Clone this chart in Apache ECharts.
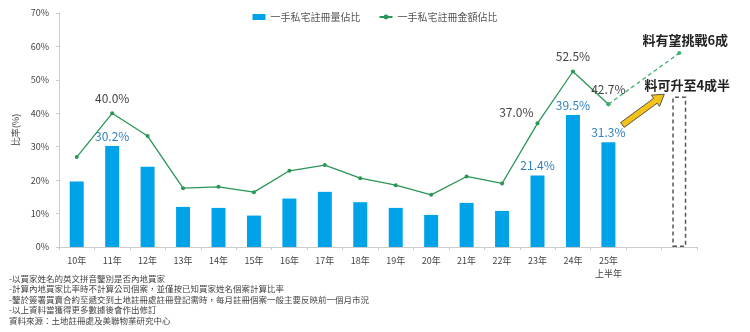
<!DOCTYPE html>
<html><head><meta charset="utf-8">
<script src="https://cdn.jsdelivr.net/npm/echarts@6/dist/echarts.min.js"></script>
<style>html,body{margin:0;padding:0;background:#fff}#c{width:750px;height:332px}</style>
</head><body><div id="c"></div>
<script>
const categories = ['10年','11年','12年','13年','14年','15年','16年','17年','18年','19年','20年','21年','22年','23年','24年','25年\n上半年','',''];
const volumeShare = [19.6,30.2,24.0,12.0,11.7,9.4,14.5,16.5,13.4,11.7,9.6,13.2,10.8,21.4,39.5,31.3,null,null];
const amountShare = [26.9,40.0,33.2,17.6,18.0,16.4,22.8,24.5,20.6,18.5,15.6,21.1,19.0,37.0,52.5,42.7,null,null];
const projAmount = [null,null,null,null,null,null,null,null,null,null,null,null,null,null,null,42.7,null,58.0];
const projVolume = [null,null,null,null,null,null,null,null,null,null,null,null,null,null,null,null,null,45.0];
const yTicks = [0,10,20,30,40,50,60,70];
const volLabelIdx = [1,13,14,15];
const amtLabelIdx = {1:'top',13:'left',14:'top',15:'top'};
const notes = [
 '-以買家姓名的英文拼音鑒別是否內地買家',
 '-計算內地買家比率時不計算公司個案，並僅按已知買家姓名個案計算比率',
 '-鑒於簽署買賣合約至遞交到土地註冊處註冊登記需時，每月註冊個案一般主要反映前一個月市況',
 '-以上資料當獲得更多數據後會作出修訂',
 '資料來源：土地註冊處及美聯物業研究中心'
];
const FONT = '"Noto Sans CJK TC", "Noto Sans", sans-serif';
const chart = echarts.init(document.getElementById('c'));
const volData = volumeShare.map((v,i)=> volLabelIdx.includes(i) ? {value:v,label:{show:true}} : v);
const amtData = amountShare.map((v,i)=> amtLabelIdx[i] ? {value:v,label:{show:true,position:amtLabelIdx[i], offset: i===13?[5,-11]:[0,0]}} : v);
chart.setOption({
  animation:false,
  textStyle:{fontFamily:FONT},
  grid:{left:59,right:53,top:13,bottom:85},
  legend:{top:7,left:'center',itemGap:18,itemWidth:13,itemHeight:6,
    textStyle:{fontFamily:FONT,fontSize:10,color:'#555'},
    data:[{name:'一手私宅註冊量佔比',icon:'rect'},{name:'一手私宅註冊金額佔比'}]},
  xAxis:{type:'category',data:categories,boundaryGap:true,
    axisLine:{lineStyle:{color:'#ccc'}},axisTick:{show:true,length:3,lineStyle:{color:'#ccc'}},
    axisLabel:{fontFamily:FONT,fontSize:9,color:'#444',margin:7,lineHeight:13,interval:0}},
  yAxis:{type:'value',min:0,max:70,interval:10,name:'比率(%)',nameLocation:'middle',nameGap:33,nameRotate:90,
    nameTextStyle:{fontFamily:FONT,fontSize:9,color:'#444'},
    axisLine:{show:true,lineStyle:{color:'#ccc'}},axisTick:{show:true,length:3,lineStyle:{color:'#ccc'}},
    splitLine:{show:false},
    axisLabel:{fontFamily:FONT,fontSize:9,color:'#444',margin:10,formatter:v=>v+'%'}},
  series:[
    {name:'一手私宅註冊量佔比',type:'bar',data:volData,barWidth:14,barGap:'-100%',
      itemStyle:{color:'#00A3E8'},
      label:{show:false,position:'top',formatter:p=>p.value.toFixed(1)+'%',fontFamily:FONT,fontSize:12,color:'#2F7FC1',distance:4}},
    {name:'proj',type:'bar',data:projVolume,barWidth:14,barGap:'-100%',
      itemStyle:{color:'rgba(0,0,0,0)',borderColor:'#555',borderWidth:1.5,borderType:[4,3]}},
    {name:'一手私宅註冊金額佔比',type:'line',data:amtData,symbol:'circle',symbolSize:4,
      lineStyle:{color:'#2A9656',width:1.3},itemStyle:{color:'#2A9656'},
      label:{show:false,formatter:p=>p.value.toFixed(1)+'%',fontFamily:FONT,fontSize:12,color:'#444',distance:7}},
    {name:'projLine',type:'line',data:projAmount,connectNulls:true,symbol:'circle',symbolSize:4,showSymbol:true,
      lineStyle:{color:'#3BB36A',width:1.3,type:[4,3]},itemStyle:{color:'#3BB36A'}}
  ]
});
const p15 = chart.convertToPixel({seriesIndex:0},[15,36.5]);
const p17 = chart.convertToPixel({seriesIndex:0},[17,45.7]);
const x0=p15[0]+14,y0=p15[1],x1=p17[0]-15,y1=p17[1];
const dx=x1-x0,dy=y1-y0,L=Math.hypot(dx,dy),ux=dx/L,uy=dy/L,nx=-uy,ny=ux;
const hw=3,hh=7,hl=11;
const bx=x1-ux*hl,by=y1-uy*hl;
const arrowPts=[[x0+nx*hw,y0+ny*hw],[bx+nx*hw,by+ny*hw],[bx+nx*hh,by+ny*hh],[x1,y1],[bx-nx*hh,by-ny*hh],[bx-nx*hw,by-ny*hw],[x0-nx*hw,y0-ny*hw]];
const t60 = chart.convertToPixel({seriesIndex:0},[17,61.9]);
const t45 = chart.convertToPixel({seriesIndex:0},[17,48.4]);
const g=[
  {type:'polygon',shape:{points:arrowPts},style:{fill:'#F5C216',stroke:'#555',lineWidth:1},z:10},
  {type:'text',x:t60[0]+6,y:t60[1],style:{text:'料有望挑戰6成',fontFamily:FONT,fontSize:13,fontWeight:'bold',fill:'#222',align:'center',verticalAlign:'middle'},z:10},
  {type:'text',x:t45[0]+8,y:t45[1],style:{text:'料可升至4成半',fontFamily:FONT,fontSize:13,fontWeight:'bold',fill:'#222',align:'center',verticalAlign:'middle'},z:10}
];
notes.forEach((t,i)=>g.push({type:'text',left:9,top:274.5+i*10.5,style:{text:t,fontFamily:FONT,fontSize:8.5,fill:'#444'}}));
chart.setOption({graphic:g});
</script></body></html>
